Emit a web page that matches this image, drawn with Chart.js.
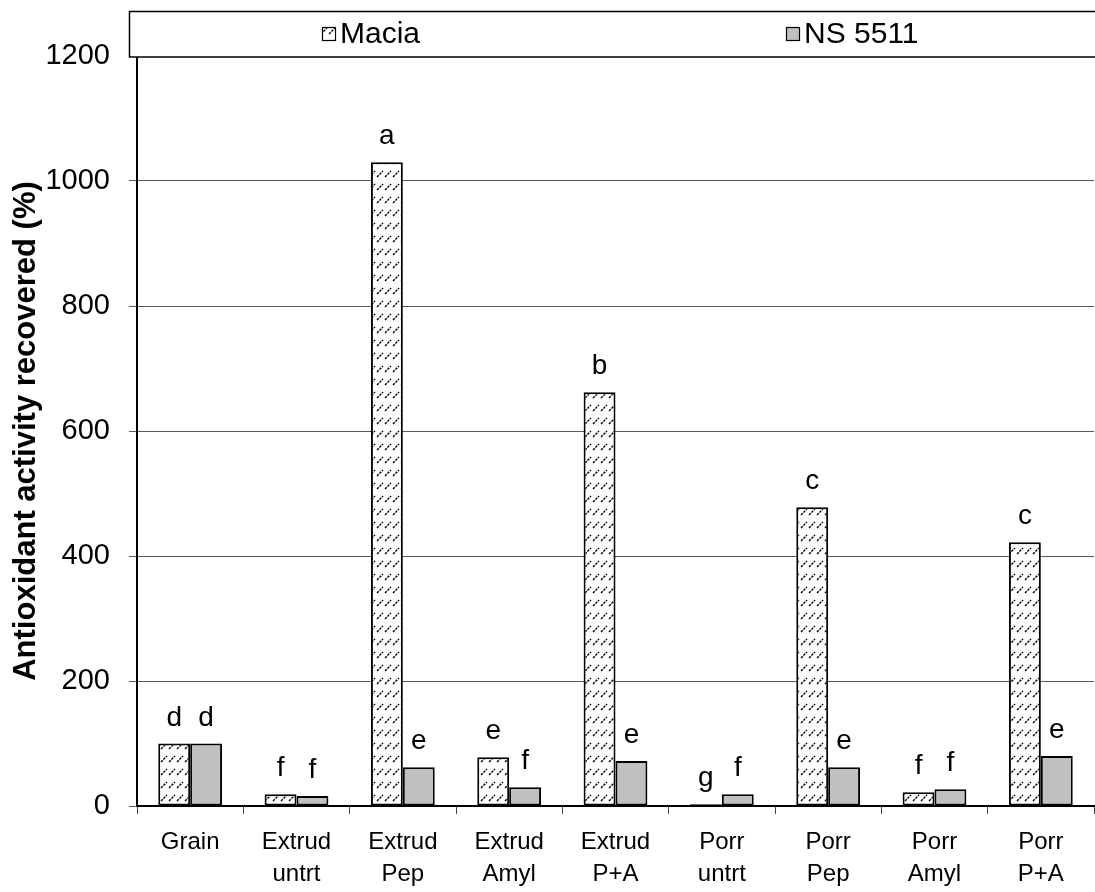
<!DOCTYPE html>
<html>
<head>
<meta charset="utf-8">
<script src="https://cdn.jsdelivr.net/npm/chart.js@4/dist/chart.umd.min.js"></script>
<style>
  html, body { margin: 0; padding: 0; background: #fff; }
  #wrap { width: 1095px; height: 892px; position: relative; }
</style>
</head>
<body>
<div id="wrap"><canvas id="c"></canvas></div>
<script>
// Categories (two-line labels where the sample name is split)
const categories = [
  'Grain',
  ['Extrud', 'untrt'], ['Extrud', 'Pep'], ['Extrud', 'Amyl'], ['Extrud', 'P+A'],
  ['Porr', 'untrt'], ['Porr', 'Pep'], ['Porr', 'Amyl'], ['Porr', 'P+A']
];
const seriesNames = ['Macia', 'NS 5511'];
// Antioxidant activity recovered (%)
const maciaValues = [100, 19, 1030, 78, 662, 3, 478, 22, 422];
const nsValues    = [100, 16, 62, 30, 72, 19, 62, 27, 80];
// Significance letters over each bar
const maciaLetters = ['d', 'f', 'a', 'e', 'b', 'g', 'c', 'f', 'c'];
const nsLetters    = ['d', 'f', 'e', 'f', 'e', 'f', 'e', 'f', 'e'];
const yTicks = [0, 200, 400, 600, 800, 1000, 1200];

const FONT = "'Liberation Sans', Arial, sans-serif";

// Diagonal dashed hatch used for the Macia bars
function makeHatch() {
  const t = document.createElement('canvas');
  t.width = 8; t.height = 13;
  const g = t.getContext('2d');
  g.fillStyle = '#fff';
  g.fillRect(0, 0, 8, 13);
  g.strokeStyle = '#000';
  g.lineWidth = 1.4;
  g.setLineDash([2.5, 1]);
  g.beginPath();
  g.moveTo(1, 8);
  g.lineTo(7, 2);
  g.stroke();
  return g.createPattern(t, 'repeat');
}
const hatch = makeHatch();

const letterPlugin = {
  id: 'letters',
  afterDatasetsDraw(chart) {
    const ctx = chart.ctx;
    ctx.save();
    ctx.fillStyle = '#000';
    ctx.font = '28px ' + FONT;
    ctx.textAlign = 'center';
    ctx.textBaseline = 'alphabetic';
    [maciaLetters, nsLetters].forEach((letters, di) => {
      chart.getDatasetMeta(di).data.forEach((bar, i) => {
        ctx.fillText(letters[i], bar.x, bar.y - 18);
      });
    });
    ctx.restore();
  }
};

const legendBoxPlugin = {
  id: 'legendBox',
  afterDraw(chart) {
    const ctx = chart.ctx;
    ctx.save();
    ctx.fillStyle = '#fff';
    ctx.fillRect(129, 11, 980, 46);
    ctx.strokeStyle = '#000';
    ctx.lineWidth = 1.5;
    ctx.strokeRect(129.5, 11.5, 980, 45.5);
    const items = [
      { x: 322, fill: hatch, text: seriesNames[0] },
      { x: 786, fill: '#c0c0c0', text: seriesNames[1] }
    ];
    ctx.font = '30px ' + FONT;
    ctx.textBaseline = 'middle';
    ctx.textAlign = 'left';
    items.forEach(it => {
      ctx.fillStyle = it.fill;
      ctx.fillRect(it.x, 27, 14, 14);
      ctx.strokeStyle = '#000';
      ctx.lineWidth = 1.2;
      ctx.strokeRect(it.x + 0.5, 27.5, 13, 13);
      ctx.fillStyle = '#000';
      ctx.fillText(it.text, it.x + 18, 35);
    });
    ctx.restore();
  }
};

new Chart(document.getElementById('c'), {
  type: 'bar',
  data: {
    labels: categories,
    datasets: [
      {
        label: seriesNames[0],
        data: maciaValues,
        backgroundColor: hatch,
        borderColor: '#000',
        borderWidth: 2,
        borderSkipped: false
      },
      {
        label: seriesNames[1],
        data: nsValues,
        backgroundColor: '#c0c0c0',
        borderColor: '#000',
        borderWidth: 2,
        borderSkipped: false
      }
    ]
  },
  options: {
    responsive: true,
    maintainAspectRatio: false,
    animation: false,
    devicePixelRatio: 1,
    layout: { padding: { top: 56, right: 1, bottom: 0, left: 0 } },
    datasets: { bar: { categoryPercentage: 0.6, barPercentage: 1.0 } },
    plugins: {
      legend: { display: false },
      tooltip: { enabled: false }
    },
    scales: {
      x: {
        offset: true,
        grid: {
          display: true,
          offset: true,
          drawOnChartArea: false,
          drawTicks: true,
          tickLength: 8,
          color: '#444',
          lineWidth: 1
        },
        border: { display: true, color: '#000', width: 2 },
        ticks: {
          color: '#000',
          padding: 12,
          maxRotation: 0,
          autoSkip: false,
          font: { family: FONT, size: 24, lineHeight: 1.33 }
        },
        afterFit(scale) { scale.height = 86; }
      },
      y: {
        min: 0,
        max: 1200,
        afterBuildTicks(scale) { scale.ticks = yTicks.map(v => ({ value: v })); },
        grid: {
          color: '#5a5a5a',
          lineWidth: 1,
          tickLength: 8
        },
        border: { display: true, color: '#000', width: 2 },
        ticks: {
          color: '#000',
          padding: 19,
          font: { family: FONT, size: 29 },
          callback: (v) => String(v)
        },
        title: {
          display: true,
          text: 'Antioxidant activity recovered (%)',
          color: '#000',
          padding: { top: 8, bottom: 0 },
          font: { family: FONT, size: 31, weight: 'bold', lineHeight: 1.2 }
        },
        afterFit(scale) { scale.width = 137; }
      }
    }
  },
  plugins: [letterPlugin, legendBoxPlugin]
});
</script>
</body>
</html>
